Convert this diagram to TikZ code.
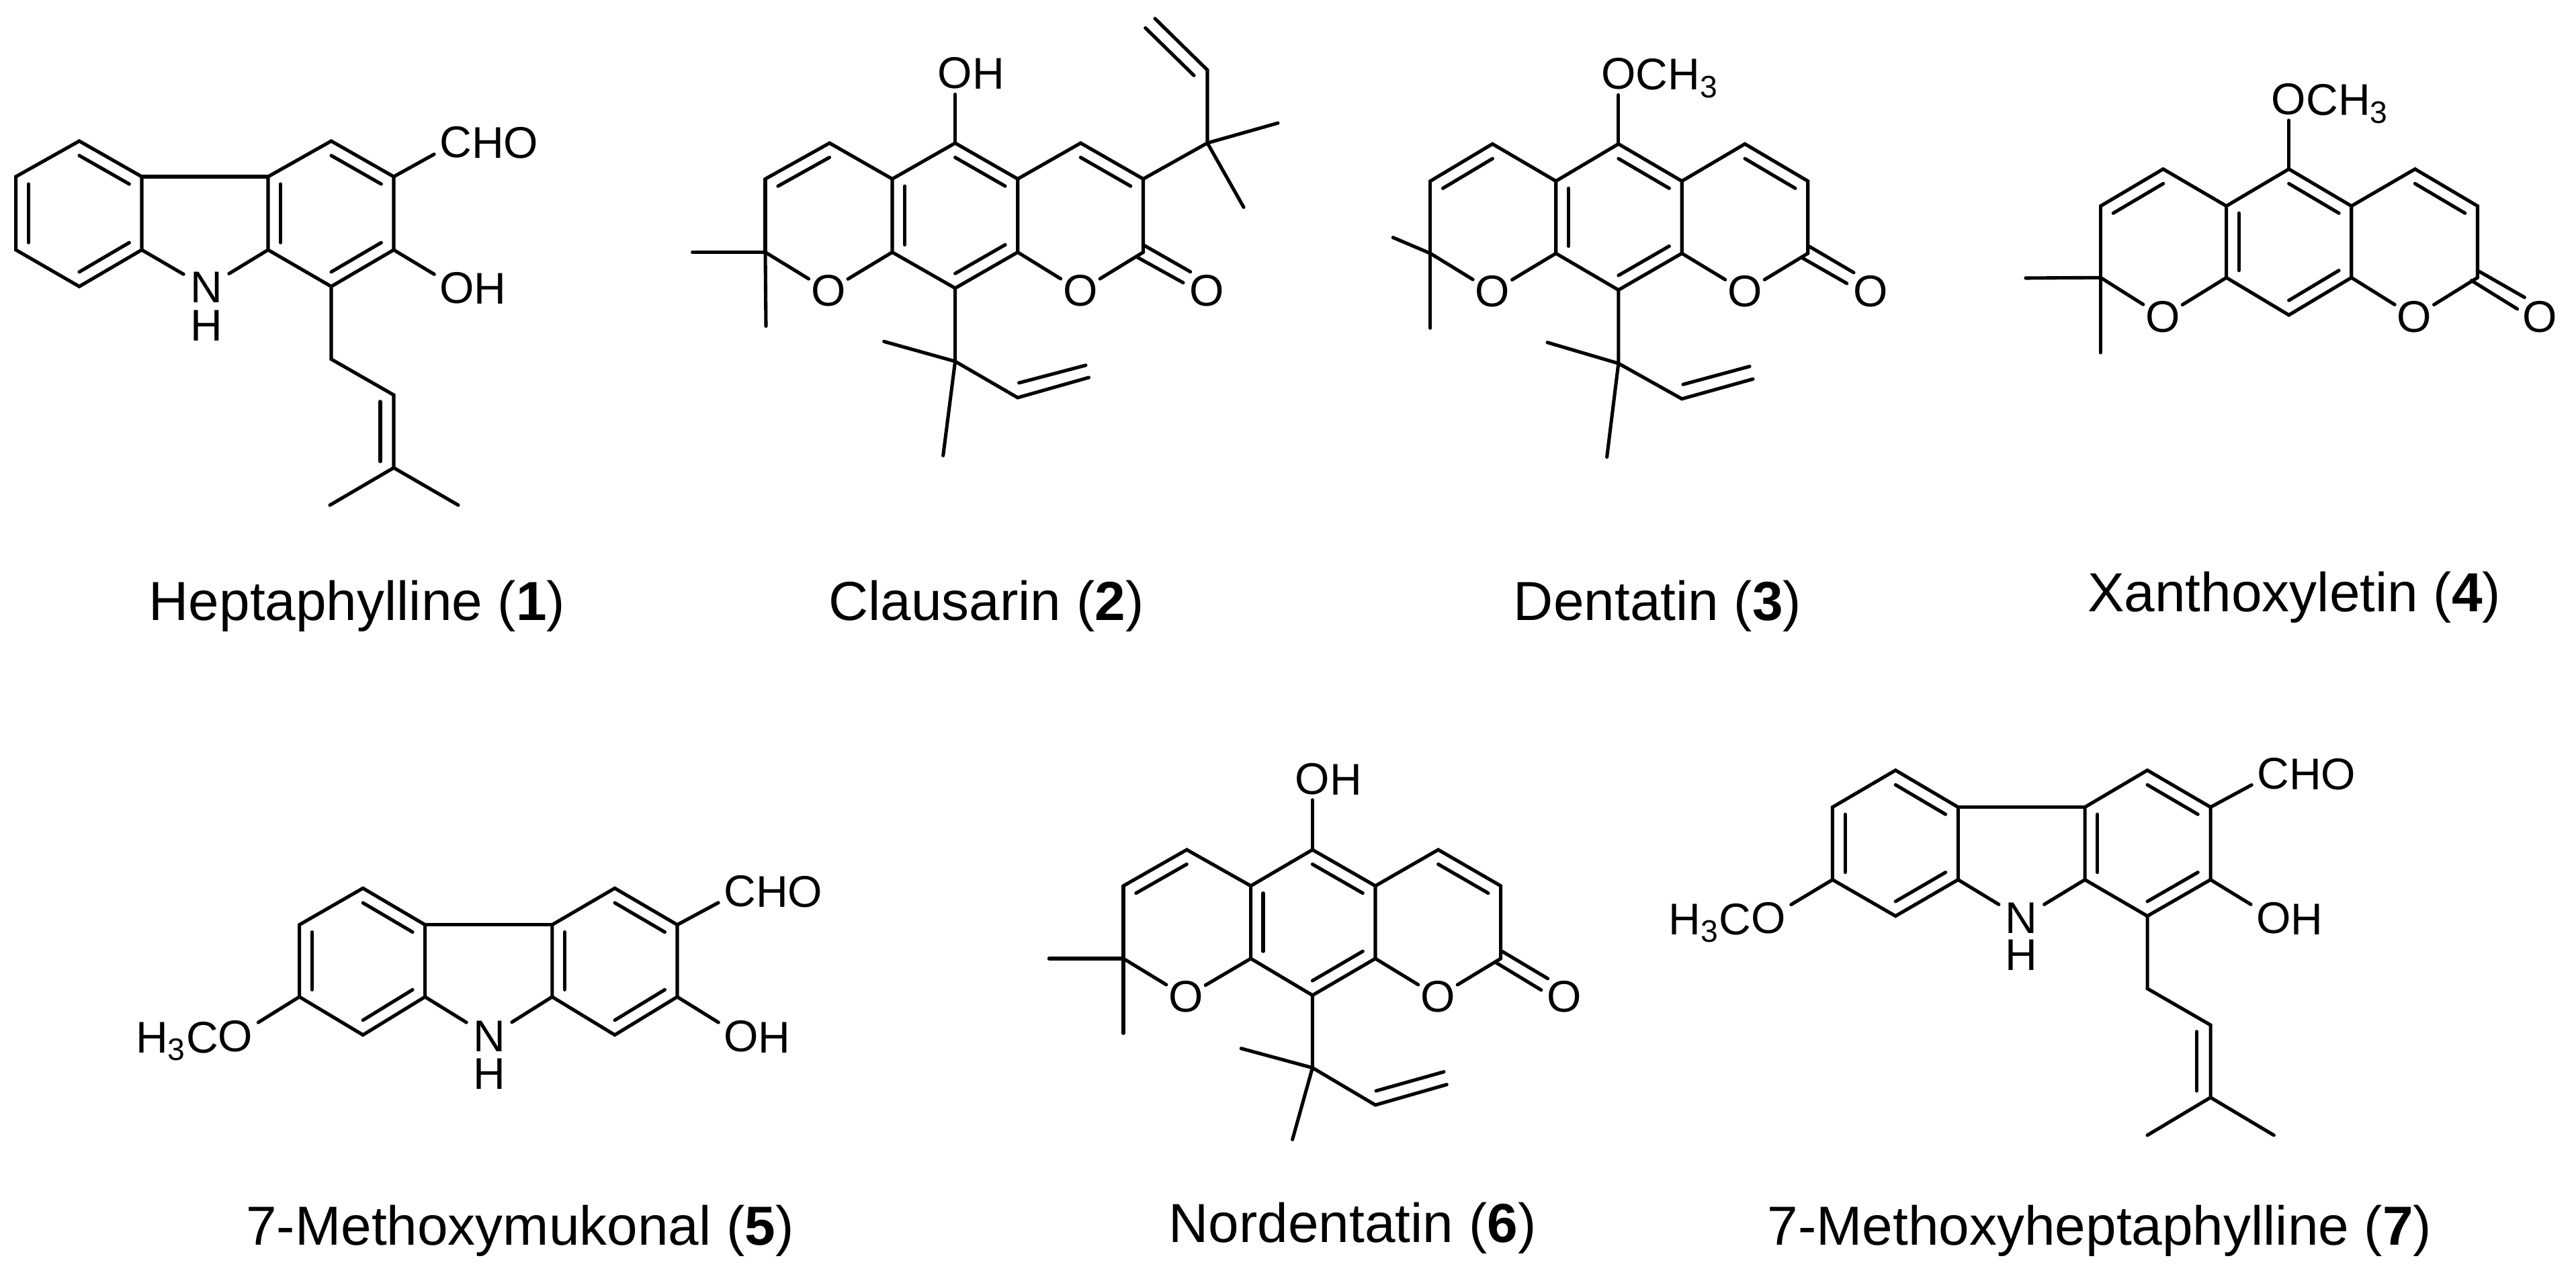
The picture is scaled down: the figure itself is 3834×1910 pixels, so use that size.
\documentclass[tikz,border=0pt]{standalone}
\usepackage{fontspec}
\setmainfont{Liberation Sans}
\usetikzlibrary{calc}
\tikzset{
	atom/.style={inner xsep=.08cm,inner ysep=.08cm,outer sep=0pt,font=\fontsize{18.8}{20}\selectfont},
	ringatom/.style={atom,inner xsep=.035cm},
	nitrogen/.style={atom,inner xsep=.1cm,inner ysep=0pt},
	hydrogen/.style={atom,inner sep=0pt},
	tailatom/.style={inner sep=0pt,outer sep=0pt,anchor=base west,font=\fontsize{18.8}{20}\selectfont},
	headatom/.style={inner sep=0pt,outer sep=0pt,anchor=base east,font=\fontsize{18.8}{20}\selectfont},
	molname/.style={inner sep=0pt,outer sep=0pt,anchor=base,font=\fontsize{23.3}{26}\selectfont}
}
\newcommand{\ringdbl}[3]{\draw ($(#1)!.2!(#3)$) -- ($(#2)!.2!(#3)$);}
\begin{document}
\begin{tikzpicture}[x=.01cm,y=-.01cm,line width=1.45pt,line cap=round]
		\useasboundingbox (0,0) rectangle (3834,1910);
		% 1
		\coordinate (a1) at (118,210);
		\coordinate (a2) at (211,263);
		\coordinate (a3) at (211,372);
		\coordinate (a4) at (118,426.5);
		\coordinate (a5) at (23.6,372);
		\coordinate (a6) at (23.6,263);
		\coordinate (ac) at (118,318);
		\coordinate (b1) at (399,263);
		\coordinate (b2) at (493,210);
		\coordinate (b3) at (586,263);
		\coordinate (b4) at (586,372);
		\coordinate (b5) at (493,426.5);
		\coordinate (b6) at (399,372);
		\coordinate (bc) at (493,318);
		\coordinate (b7) at (493,534.7);
		\coordinate (b8) at (586,588);
		\coordinate (b9) at (586,696.4);
		\coordinate (b10) at (491,752);
		\coordinate (b11) at (682,752);
		\coordinate (b12) at (566,597.8);
		\coordinate (b13) at (566,687);
		\node[nitrogen] (an) at (307,428) {N};
		\node[hydrogen] (ah) at (307,485) {H};
		\node[atom] (ac1) at (678,212) {C};
		\node[tailatom] (ac2) at (702,236) {HO};
		\node[atom] (ao) at (680,428.6) {O};
		\node[tailatom] (ao2) at (705.7,452.6) {H};
		\draw (a1) -- (a2) -- (a3) -- (a4) -- (a5) -- (a6) -- cycle;
		\draw (b1) -- (b2) -- (b3) -- (b4) -- (b5) -- (b6) -- cycle;
		\draw (a2) -- (b1);
		\draw (a3) -- (an);
		\draw (b6) -- (an);
		\draw (b3) -- (ac1);
		\draw (b4) -- (ao);
		\draw (b5) -- (b7) -- (b8) -- (b9) -- (b10);
		\draw (b9) -- (b11);
		\draw (b12) -- (b13);
		\ringdbl{a1}{a2}{ac}
		\ringdbl{a3}{a4}{ac}
		\ringdbl{a5}{a6}{ac}
		\ringdbl{b1}{b6}{bc}
		\ringdbl{b2}{b3}{bc}
		\ringdbl{b4}{b5}{bc}
		\node[molname] (n1) at (531.5,923) {Heptaphylline (\textbf{1})};
		% 2
		\coordinate (c1) at (1139,266.4);
		\coordinate (c2) at (1234.7,213);
		\coordinate (c3) at (1328,266.4);
		\coordinate (c4) at (1421.6,213);
		\coordinate (c5) at (1514.7,266.4);
		\coordinate (c6) at (1608.4,213);
		\coordinate (c7) at (1701.5,266.4);
		\coordinate (c8) at (1701.5,375.5);
		\coordinate (c9) at (1514.7,375.5);
		\coordinate (c10) at (1421.6,429);
		\coordinate (c11) at (1328,375.5);
		\coordinate (c12) at (1139,375.5);
		\coordinate (cl) at (1233.5,320);
		\coordinate (cm) at (1421.6,320);
		\coordinate (cr) at (1608,320);
		\coordinate (c13) at (1701.5,364.5);
		\coordinate (c14) at (1771.7,404.6);
		\coordinate (c15) at (1692,382.6);
		\coordinate (c16) at (1761,420.9);
		\coordinate (c17) at (1030.6,375.5);
		\coordinate (c18) at (1140,485.5);
		\coordinate (c19) at (1797,212.9);
		\coordinate (c20) at (1797,104.3);
		\coordinate (c21) at (1719,27.7);
		\coordinate (c22) at (1777,112.4);
		\coordinate (c23) at (1704.7,41.6);
		\coordinate (c24) at (1902,183.2);
		\coordinate (c25) at (1851,308.5);
		\coordinate (c26) at (1421.6,538);
		\coordinate (c27) at (1315.7,508.4);
		\coordinate (c28) at (1403.7,678.2);
		\coordinate (c29) at (1514.7,592);
		\coordinate (c30) at (1620.5,562);
		\coordinate (c31) at (1516.6,570);
		\coordinate (c32) at (1616,543.8);
		\node[ringatom] (co1) at (1232.8,433) {O};
		\node[ringatom] (co2) at (1607.8,433) {O};
		\node[ringatom] (co3) at (1796,433) {O};
		\node[atom] (co4) at (1421.6,109) {O};
		\node[tailatom] (co5) at (1447.3,133) {H};
		\draw (c1) -- (c2) -- (c3) -- (c4) -- (c5) -- (c6) -- (c7) -- (c8);
		\draw (c3) -- (c11) -- (c10) -- (c9) -- (c5);
		\draw (c1) -- (c12);
		\draw (c12) -- (co1);
		\draw (c11) -- (co1);
		\draw (c9) -- (co2);
		\draw (c8) -- (co2);
		\draw (c13) -- (c14);
		\draw (c15) -- (c16);
		\draw (c12) -- (c17);
		\draw (c12) -- (c18);
		\draw (c4) -- (co4);
		\draw (c7) -- (c19) -- (c20) -- (c21);
		\draw (c22) -- (c23);
		\draw (c19) -- (c24);
		\draw (c19) -- (c25);
		\draw (c10) -- (c26) -- (c27);
		\draw (c26) -- (c28);
		\draw (c26) -- (c29) -- (c30);
		\draw (c31) -- (c32);
		\ringdbl{c1}{c2}{cl}
		\ringdbl{c3}{c11}{cm}
		\ringdbl{c4}{c5}{cm}
		\ringdbl{c9}{c10}{cm}
		\ringdbl{c6}{c7}{cr}
		\node[molname] (n2) at (1468,923) {Clausarin (\textbf{2})};
		% 3
		\coordinate (d1) at (2128.8,269.6);
		\coordinate (d2) at (2221.3,214.3);
		\coordinate (d3) at (2315.7,269.6);
		\coordinate (d4) at (2408.8,214.3);
		\coordinate (d5) at (2503.2,269.6);
		\coordinate (d6) at (2597,214.3);
		\coordinate (d7) at (2690.7,269.6);
		\coordinate (d8) at (2690.7,377.2);
		\coordinate (d9) at (2503.2,377.2);
		\coordinate (d10) at (2408.8,431.7);
		\coordinate (d11) at (2315.7,377.2);
		\coordinate (d12) at (2128.8,377.2);
		\coordinate (dl) at (2222,323.5);
		\coordinate (dm) at (2409,323.5);
		\coordinate (dr) at (2597,323.5);
		\coordinate (d13) at (2693,367);
		\coordinate (d14) at (2759,405.8);
		\coordinate (d15) at (2682.4,384);
		\coordinate (d16) at (2748.7,421.9);
		\coordinate (d17) at (2073.3,353.6);
		\coordinate (d18) at (2128.8,488.4);
		\coordinate (d19) at (2408.8,541);
		\coordinate (d20) at (2303,509.8);
		\coordinate (d21) at (2391.6,680.4);
		\coordinate (d22) at (2503.2,593.8);
		\coordinate (d23) at (2609,564.3);
		\coordinate (d24) at (2505,572.3);
		\coordinate (d25) at (2604,545.5);
		\node[ringatom] (do1) at (2221.3,434) {O};
		\node[ringatom] (do2) at (2597,434) {O};
		\node[ringatom] (do3) at (2783.8,434) {O};
		\node[atom] (do4) at (2408.8,110) {O};
		\node[tailatom] (do5) at (2434.5,134) {CH\textsubscript{3}};
		\draw (d1) -- (d2) -- (d3) -- (d4) -- (d5) -- (d6) -- (d7) -- (d8);
		\draw (d3) -- (d11) -- (d10) -- (d9) -- (d5);
		\draw (d1) -- (d12);
		\draw (d12) -- (do1);
		\draw (d11) -- (do1);
		\draw (d9) -- (do2);
		\draw (d8) -- (do2);
		\draw (d13) -- (d14);
		\draw (d15) -- (d16);
		\draw (d17) -- (d12);
		\draw (d12) -- (d18);
		\draw (d4) -- (do4);
		\draw (d10) -- (d19) -- (d20);
		\draw (d19) -- (d21);
		\draw (d19) -- (d22) -- (d23);
		\draw (d24) -- (d25);
		\ringdbl{d1}{d2}{dl}
		\ringdbl{d3}{d11}{dm}
		\ringdbl{d4}{d5}{dm}
		\ringdbl{d9}{d10}{dm}
		\ringdbl{d6}{d7}{dr}
		\node[molname] (n3) at (2467,923) {Dentatin (\textbf{3})};
		% 4
		\coordinate (e1) at (3126.5,306.7);
		\coordinate (e2) at (3219.5,251.7);
		\coordinate (e3) at (3313.6,306.7);
		\coordinate (e4) at (3406.6,251.7);
		\coordinate (e5) at (3499.7,306.7);
		\coordinate (e6) at (3594.4,251.7);
		\coordinate (e7) at (3687.4,306.7);
		\coordinate (e8) at (3687.4,413.3);
		\coordinate (e9) at (3499.7,413.3);
		\coordinate (e10) at (3406.6,469);
		\coordinate (e11) at (3313.6,413.3);
		\coordinate (e12) at (3126.5,413.3);
		\coordinate (el) at (3220,360);
		\coordinate (em) at (3406.6,360);
		\coordinate (er) at (3594,360);
		\coordinate (e13) at (3689.7,404);
		\coordinate (e14) at (3757.3,442.7);
		\coordinate (e15) at (3678.4,417.7);
		\coordinate (e16) at (3746.6,460);
		\coordinate (e17) at (3014.8,414);
		\coordinate (e18) at (3126.5,525);
		\node[ringatom] (eo1) at (3219,471.7) {O};
		\node[ringatom] (eo2) at (3593.3,471.7) {O};
		\node[ringatom] (eo3) at (3780.4,471.7) {O};
		\node[atom] (eo4) at (3406.6,147.7) {O};
		\node[tailatom] (eo5) at (3432.3,171.7) {CH\textsubscript{3}};
		\draw (e1) -- (e2) -- (e3) -- (e4) -- (e5) -- (e6) -- (e7) -- (e8);
		\draw (e3) -- (e11) -- (e10) -- (e9) -- (e5);
		\draw (e1) -- (e12);
		\draw (e12) -- (eo1);
		\draw (e11) -- (eo1);
		\draw (e9) -- (eo2);
		\draw (e8) -- (eo2);
		\draw (e13) -- (e14);
		\draw (e15) -- (e16);
		\draw (e12) -- (e17);
		\draw (e12) -- (e18);
		\draw (e4) -- (eo4);
		\ringdbl{e1}{e2}{el}
		\ringdbl{e3}{e11}{em}
		\ringdbl{e4}{e5}{em}
		\ringdbl{e9}{e10}{em}
		\ringdbl{e6}{e7}{er}
		\node[molname] (n4) at (3414.6,910) {Xanthoxyletin (\textbf{4})};
		% 5
		\coordinate (f1) at (445.6,1376.7);
		\coordinate (f2) at (540.2,1322.3);
		\coordinate (f3) at (632.6,1376.7);
		\coordinate (f4) at (632.6,1484);
		\coordinate (f5) at (540.2,1540.7);
		\coordinate (f6) at (445.6,1484);
		\coordinate (fc) at (540,1431);
		\coordinate (g1) at (821.8,1376.7);
		\coordinate (g2) at (915,1322.3);
		\coordinate (g3) at (1008,1376.7);
		\coordinate (g4) at (1008,1484);
		\coordinate (g5) at (915,1540.7);
		\coordinate (g6) at (821.8,1484);
		\coordinate (gc) at (915,1431);
		\node[nitrogen] (fn) at (728,1543) {N};
		\node[hydrogen] (fh) at (728,1599) {H};
		\node[atom] (gc1) at (1101,1326.7) {C};
		\node[tailatom] (gc2) at (1125,1350.7) {HO};
		\node[atom] (go) at (1103,1543) {O};
		\node[tailatom] (go2) at (1128.7,1567) {H};
		\node[atom] (fo) at (350.7,1543) {O};
		\node[headatom] (fo2) at (325,1567) {H\textsubscript{3}C};
		\draw (f1) -- (f2) -- (f3) -- (f4) -- (f5) -- (f6) -- cycle;
		\draw (g1) -- (g2) -- (g3) -- (g4) -- (g5) -- (g6) -- cycle;
		\draw (f3) -- (g1);
		\draw (f4) -- (fn);
		\draw (g6) -- (fn);
		\draw (g3) -- (gc1);
		\draw (g4) -- (go);
		\draw (f6) -- (fo);
		\ringdbl{f2}{f3}{fc}
		\ringdbl{f4}{f5}{fc}
		\ringdbl{f1}{f6}{fc}
		\ringdbl{g1}{g6}{gc}
		\ringdbl{g2}{g3}{gc}
		\ringdbl{g4}{g5}{gc}
		\node[molname] (n5) at (774,1853) {7-Methoxymukonal (\textbf{5})};
		% 6
		\coordinate (h1) at (1672,1318.8);
		\coordinate (h2) at (1766.3,1265);
		\coordinate (h3) at (1861.6,1318.8);
		\coordinate (h4) at (1953.4,1265);
		\coordinate (h5) at (2047,1318.8);
		\coordinate (h6) at (2140.6,1265);
		\coordinate (h7) at (2233.6,1318.8);
		\coordinate (h8) at (2233.6,1427);
		\coordinate (h9) at (2047,1427);
		\coordinate (h10) at (1953.4,1481.7);
		\coordinate (h11) at (1861.6,1427);
		\coordinate (h12) at (1672,1427);
		\coordinate (hl) at (1766,1373);
		\coordinate (hm) at (1953.4,1373);
		\coordinate (hr) at (2140.6,1373);
		\coordinate (h13) at (2235.8,1416.4);
		\coordinate (h14) at (2303.6,1456.8);
		\coordinate (h15) at (2227.2,1433.4);
		\coordinate (h16) at (2293.8,1473.8);
		\coordinate (h17) at (1561.3,1427);
		\coordinate (h18) at (1672,1538.2);
		\coordinate (h19) at (1953.4,1589.6);
		\coordinate (h20) at (1847.2,1560.8);
		\coordinate (h21) at (1923.6,1696.4);
		\coordinate (h22) at (2047,1645);
		\coordinate (h23) at (2153.2,1614.6);
		\coordinate (h24) at (2048,1624);
		\coordinate (h25) at (2149,1595.6);
		\node[ringatom] (ho1) at (1765,1483.7) {O};
		\node[ringatom] (ho2) at (2140,1483.7) {O};
		\node[ringatom] (ho3) at (2327.7,1483.7) {O};
		\node[atom] (ho4) at (1953.4,1159.4) {O};
		\node[tailatom] (ho5) at (1979,1183.4) {H};
		\draw (h1) -- (h2) -- (h3) -- (h4) -- (h5) -- (h6) -- (h7) -- (h8);
		\draw (h3) -- (h11) -- (h10) -- (h9) -- (h5);
		\draw (h1) -- (h12);
		\draw (h12) -- (ho1);
		\draw (h11) -- (ho1);
		\draw (h9) -- (ho2);
		\draw (h8) -- (ho2);
		\draw (h13) -- (h14);
		\draw (h15) -- (h16);
		\draw (h12) -- (h17);
		\draw (h12) -- (h18);
		\draw (h4) -- (ho4);
		\draw (h10) -- (h19) -- (h20);
		\draw (h19) -- (h21);
		\draw (h19) -- (h22) -- (h23);
		\draw (h24) -- (h25);
		\ringdbl{h1}{h2}{hl}
		\ringdbl{h3}{h11}{hm}
		\ringdbl{h4}{h5}{hm}
		\ringdbl{h9}{h10}{hm}
		\ringdbl{h6}{h7}{hr}
		\node[molname] (n6) at (2013,1849) {Nordentatin (\textbf{6})};
		% 7
		\coordinate (i1) at (2727.4,1201.6);
		\coordinate (i2) at (2821.2,1146.7);
		\coordinate (i3) at (2914.3,1201.6);
		\coordinate (i4) at (2914.3,1309.6);
		\coordinate (i5) at (2821.2,1363.7);
		\coordinate (i6) at (2727.4,1309.6);
		\coordinate (ic) at (2821,1255);
		\coordinate (j1) at (3103,1201.6);
		\coordinate (j2) at (3196,1146.7);
		\coordinate (j3) at (3290,1201.6);
		\coordinate (j4) at (3290,1309.6);
		\coordinate (j5) at (3196,1363.7);
		\coordinate (j6) at (3103,1309.6);
		\coordinate (jc) at (3196,1255);
		\coordinate (j7) at (3196,1471.7);
		\coordinate (j8) at (3290,1525.9);
		\coordinate (j9) at (3290,1633.8);
		\coordinate (j10) at (3196,1690);
		\coordinate (j11) at (3384.3,1690);
		\coordinate (j12) at (3269.5,1535.7);
		\coordinate (j13) at (3269.5,1624);
		\node[nitrogen] (in) at (3008.7,1367) {N};
		\node[hydrogen] (ih) at (3008.7,1422) {H};
		\node[atom] (jc1) at (3383,1151.4) {C};
		\node[tailatom] (jc2) at (3407,1175.4) {HO};
		\node[atom] (jo) at (3383.7,1367) {O};
		\node[tailatom] (jo2) at (3409.4,1391) {H};
		\node[atom] (io) at (2632,1367) {O};
		\node[headatom] (io2) at (2606.3,1391) {H\textsubscript{3}C};
		\draw (i1) -- (i2) -- (i3) -- (i4) -- (i5) -- (i6) -- cycle;
		\draw (j1) -- (j2) -- (j3) -- (j4) -- (j5) -- (j6) -- cycle;
		\draw (i3) -- (j1);
		\draw (i4) -- (in);
		\draw (j6) -- (in);
		\draw (j3) -- (jc1);
		\draw (j4) -- (jo);
		\draw (i6) -- (io);
		\draw (j5) -- (j7) -- (j8) -- (j9) -- (j10);
		\draw (j9) -- (j11);
		\draw (j12) -- (j13);
		\ringdbl{i2}{i3}{ic}
		\ringdbl{i4}{i5}{ic}
		\ringdbl{i1}{i6}{ic}
		\ringdbl{j1}{j6}{jc}
		\ringdbl{j2}{j3}{jc}
		\ringdbl{j4}{j5}{jc}
		\node[molname] (n7) at (3125,1853) {7-Methoxyheptaphylline (\textbf{7})};
\end{tikzpicture}
\end{document}
